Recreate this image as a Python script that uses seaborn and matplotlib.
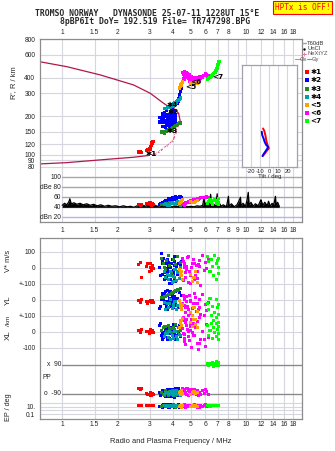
import numpy as np
import pandas as pd
import matplotlib
matplotlib.use("Agg")
import matplotlib.pyplot as plt
from matplotlib.ticker import NullLocator, FixedLocator, FixedFormatter
import seaborn as sns

sns.set_style("white")
plt.rcParams['font.family'] = ['Liberation Sans', 'DejaVu Sans']

# ---------------- data ----------------
freq_ticks = [1, 1.5, 2, 3, 4, 5, 6, 7, 8, 9, 10, 12, 14, 16, 18]
freq_labels_outer = ["1", "1.5", "2", "3", "4", "5", "6", "7", "8", "", "10", "12", "14", "16", "18"]
freq_labels_mid = ["1", "1.5", "2", "3", "4", "5", "6", "7", "8", "9", "10", "12", "14", "16", "18"]
height_ticks = [80, 90, 100, 120, 150, 200, 300, 400, 600, 800]

# model profile curve (virtual / real height)
prof_f = [0.753, 1.06, 1.61, 2.44, 3.01, 3.55, 3.78, 4.03, 4.29, 4.38, 4.20, 4.11, 4.03,
          3.78, 3.55, 3.27, 3.01, 2.44, 1.61, 1.06, 0.753]
prof_h = [532, 486, 419, 350, 301, 252, 237, 230, 210, 181, 160, 142, 130,
          119, 112, 102, 98.7, 95.2, 90.8, 86.4, 84.4]
nexyz_f = [4.20, 4.11, 4.03, 3.90, 3.78, 3.66, 3.55, 3.40, 3.27, 3.12, 3.01]
nexyz_h = [160, 142, 130, 124, 119, 115, 112, 106, 102, 100, 98.7]

# tilt inset
tiltx_deg = [-6.7, -5.3, -4.0, -3.1, -1.8, -0.3, -2.6, -4.8, -7.0]
tiltx_h = [160, 153, 140, 128, 119, 112, 107, 102, 97.5]
tilty_deg = [-8.1, -7.6, -6.2, -4.8, -3.3, -1.1, -3.1, -5.3, -7.3]
tilty_h = [151, 142, 134, 125, 119, 114.6, 108.6, 102.9, 97.5]

# noise spectrum (dBe)
noise_f = [1.00, 1.03, 1.06, 1.09, 1.10, 1.12, 1.16, 1.20, 1.25, 1.30, 1.36, 1.42, 1.48, 1.55,
           1.62, 1.70, 1.78, 1.86, 1.95, 2.05, 2.15, 2.25, 2.35, 2.45, 2.55, 2.65, 2.75, 2.85,
           2.95, 3.05, 3.15, 3.30, 3.45, 3.60, 3.80, 4.00, 4.20, 4.40, 4.60, 4.80, 5.00, 5.20,
           5.40, 5.60, 5.80, 5.90, 5.95, 6.10, 6.30, 6.40, 6.45, 6.60, 6.80, 6.95, 7.00, 7.10,
           7.30, 7.50, 7.80, 8.00, 8.05, 8.30, 8.60, 8.90, 9.10, 9.30, 9.35, 9.60, 9.90, 10.10,
           10.25, 10.35, 10.60, 10.90, 11.20, 11.60, 11.90, 12.00, 12.30, 12.60, 13.00, 13.20,
           13.50, 13.80, 14.10, 14.40, 14.50, 14.80, 15.10]
noise_db = [44, 48, 45, 52, 57, 47, 49, 46, 48, 45, 47, 44, 46, 43,
            45, 42, 44, 42, 43, 41, 43, 41, 42, 40, 43, 41, 44, 42,
            46, 43, 45, 42, 44, 42, 43, 41, 42, 41, 43, 41, 42, 41,
            43, 42, 44, 62, 45, 50, 43, 66, 44, 48, 42, 67, 45, 50,
            42, 45, 41, 62, 42, 47, 41, 45, 52, 60, 43, 48, 42, 55,
            70, 44, 50, 42, 47, 43, 52, 55, 44, 50, 43, 52,
            42, 48, 45, 62, 44, 50, 42]

trace_names = ["1", "2", "3", "4", "5", "6", "7"]
trace_labels = ["\u27311", "\u27312", "\u27313", "\u27314", "<5", "<6", "<7"]
trace_colors = ["#ff0000", "#0000ff", "#208a20", "#00a0a8", "#ffa000", "#ff00ff", "#00ff00"]

red_f = [2.60, 2.65, 2.70, 2.86, 2.92, 2.97, 3.00, 3.02, 3.05, 3.08, 3.12]
red_h = [105, 105, 104, 108, 110, 112, 110, 115, 119, 123, 127]
red_amp = [45, 44, 46, 47, 48, 50, 46, 49, 44, 47, 45]
red_v = [20, 35, -60, 10, 30, -20, 0, 25, -15, 15, -5]
red_yl = [-5, -15, 0, -10, -20, -8, -12, -3, -18, -6, -14]
red_xl = [10, -5, 15, 5, 0, -8, 12, 3, -3, 8, -6]
red_pp = [-58, -62, -60, -88, -95, -92, -100, -85, -98, -90, -94]
red_ep = [20, 18, 22, 19, 21, 20, 17, 23, 20, 19, 21]

blue_f = [4.45, 4.40, 4.35, 4.30, 4.25, 4.20,
          3.80, 3.95, 3.70, 3.88, 4.05,
          3.50, 3.65, 3.80, 3.98, 4.12,
          3.40, 3.55, 3.72, 3.88, 4.05,
          3.38, 3.52, 3.68, 3.85, 4.00,
          3.50, 3.65, 3.82, 4.00,
          3.45, 3.62, 3.78, 3.95, 4.12,
          3.58, 3.75, 3.92, 4.10,
          3.60, 3.92,
          3.72, 3.90, 4.08]
blue_h = [330, 310, 292, 275, 262, 250,
          232, 228, 220, 218, 215,
          208, 206, 204, 203, 200,
          194, 192, 190, 189, 188,
          180, 178, 176, 175, 174,
          166, 164, 163, 165,
          186, 184, 183, 182, 180,
          198, 197, 196, 193,
          214, 210,
          170, 168, 178]
blue_amp = [60, 61, 62, 60, 59, 58,
            55, 58, 52, 56, 60,
            50, 53, 57, 59, 61,
            47, 49, 54, 56, 58,
            45, 48, 51, 53, 55,
            46, 50, 52, 56,
            46, 50, 53, 55, 57,
            48, 52, 55, 58,
            51, 57,
            49, 54, 56]
blue_v = [40, 20, -10, 30, -40, 10,
          -20, 50, -60, 0, -80,
          30, -30, 10, -90, 20,
          -50, 60, -10, -70, 40,
          0, -40, 25, -100, -15,
          45, -65, 15, -35,
          90, -55, 35, -25, -85,
          5, 55, -45, 70, -75,
          25, -5,
          -95, 15]
blue_yl = [30, -20, 45, -50, 10, -35,
           -10, 25, -45, 55, -5,
           15, -60, 35, -25, 50,
           -40, 5, 60, -15, 20,
           -55, 40, -30, 10, -50,
           25, -10, 45, -35,
           0, 55, -45, 20, -25,
           35, -60, 10, 50,
           -20, -5,
           30, -40, 15]
blue_xl = [20, -30, 40, -10, -45, 5,
           30, -20, 10, -50, 45,
           -5, 35, -40, 15, -25,
           50, -35, 0, 25, -15,
           40, -45, 20, -10, 30,
           -30, 10, -40, 45,
           -20, 35, -5, 15, -50,
           25, -35, 5, 40,
           -25, 10,
           -45, 30, -15]
blue_pp = [-70, -85, -95, -60, -100, -80, -75, -90, -105, -65,
           -88, -95, -70, -110, -82, -60, -100, -78, -92, -68,
           -115, -85, -72, -98, -62, -90, -80, -105, -66, -94,
           -88, -74, -102, -64, -96, -83, -70, -108, -77, -90,
           -93, -61, -99, -86]
blue_ep = [10, 20, 8, 30, 15, 12, 25, 9, 18, 35,
           11, 14, 22, 7, 28, 16, 12, 40, 9, 19,
           24, 13, 8, 30, 17, 10, 21, 15, 6, 27,
           11, 33, 19, 9, 14, 26, 12, 18, 8, 23,
           16, 29, 10, 20]

green_f = [3.45, 3.55, 3.62, 3.70, 3.78, 3.85, 3.92, 4.00, 4.08, 4.15, 4.22, 4.30, 4.37, 3.60, 3.95]
green_h = [150, 150, 152, 153, 155, 157, 159, 162, 165, 168, 171, 174, 176, 147, 156]
green_amp = [45, 46, 47, 48, 47, 49, 50, 48, 46, 47, 49, 48, 46, 45, 47]
green_v = [60, 30, -10, 45, 80, 15, -30, 50, -60, 20, 70, -20, 35, 5, -45]
green_yl = [15, 18, 22, 28, 32, 36, 42, 48, 52, 58, 62, 68, 72, 20, 45]
green_xl = [10, 25, 35, 5, 40, 20, -5, 30, 15, 45, 0, 25, 10, 35, 20]
green_pp = [-80, -95, -70, -88, -100, -75, -92, -85, -68, -98, -78, -90, -82, -104, -72]
green_ep = [12, 18, 9, 25, 15, 10, 20, 30, 14, 8, 22, 16, 11, 19, 13]

cyan_f = [3.72, 3.80, 3.88, 3.95, 4.02, 4.10, 4.17, 4.25, 4.32, 4.38, 3.85, 4.00, 3.60, 3.66]
cyan_h = [232, 236, 240, 244, 248, 253, 258, 264, 270, 276, 232, 240, 230, 228]
cyan_amp = [44, 46, 48, 50, 47, 45, 49, 51, 46, 44, 43, 47, 45, 48]
cyan_v = [-40, -70, -20, -90, -55, -10, -80, -30, -65, 5, -50, -85, -25, -60]
cyan_yl = [-20, -45, 0, -55, -30, -10, -60, -35, -5, -50, -25, -40, -15, -58]
cyan_xl = [-10, -35, -45, -20, -40, 5, -30, -50, -15, -25, 0, -42, -28, -8]
cyan_pp = [-84, -96, -76, -90, -102, -86, -70, -94, -80, -98, -88, -74, -92, -82]
cyan_ep = [15, 10, 22, 12, 18, 9, 26, 14, 11, 20, 16, 13, 24, 17]

orange_f = [4.35, 4.38, 4.42, 4.46, 4.50, 5.00, 5.10, 5.20, 5.30, 5.40]
orange_h = [330, 340, 350, 360, 368, 362, 358, 356, 360, 362]
orange_amp = [48, 50, 52, 54, 55, 52, 50, 49, 51, 53]
orange_v = [-10, -30, -50, -20, -70, -40, -85, -60, -25, -90]
orange_yl = [-5, -20, -40, -60, -30, -80, -100, -50, -120, -70]
orange_xl = [30, 50, 70, 40, 85, 60, 35, 75, 45, 25]
orange_pp = [-85, -78, -92, -70, -88, -95, -80, -74, -90, -83]
orange_ep = [14, 10, 20, 8, 16, 12, 22, 9, 18, 11]

mag_f = [4.50, 4.60, 4.70, 4.55, 4.65, 4.75, 4.85, 4.60, 4.72, 4.85,
         4.95, 5.05, 5.15, 5.25, 5.35, 5.45, 5.55, 5.65, 5.10, 5.30,
         6.00, 6.10, 6.20, 4.58, 4.62, 4.80, 4.90, 5.00, 5.20, 5.40,
         5.60, 5.75, 5.90, 4.95, 5.50]
mag_h = [440, 445, 440, 425, 420, 415, 410, 405, 400, 395,
         390, 385, 380, 378, 380, 385, 390, 395, 395, 392,
         430, 420, 412, 395, 385, 430, 420, 405, 400, 398,
         405, 400, 415, 375, 375]
mag_amp = [46, 47, 48, 46, 49, 50, 51, 48, 50, 52,
           53, 52, 54, 55, 56, 57, 58, 59, 51, 55,
           60, 61, 60, 45, 44, 49, 52, 53, 55, 57,
           58, 59, 60, 50, 56]
mag_v = [60, 20, -30, 40, -60, 10, -90, 30, -10, 70,
         -40, 0, 50, -70, 15, -20, 45, -110, 25, -50,
         35, -5, 55, -80, 5, 65, -25, -45, 30, -65,
         10, 75, -15, -100, 20]
mag_yl = [-20, 10, -50, 30, -80, -10, -100, -35, 20, -60,
          -5, -120, -45, 40, -70, -25, 0, -90, -55, 15,
          -30, -65, -15, -110, 5, -40, 25, -85, -20, -75,
          -50, 35, -95, -10, -60]
mag_xl = [20, -40, 60, -10, -80, 40, 0, -60, 80, -30,
          10, -100, 50, -20, 30, -70, 90, -50, -5, 25,
          -90, 45, -35, 70, -15, 15, -55, 35, -25, 65,
          -75, 5, -45, 55, -110]
mag_pp = [-60, -75, -90, -65, -80, -95, -70, -85, -58, -100,
          -72, -88, -62, -78, -92, -68, -82, -97, -74, -86,
          -64, -79, -93, -69, -84, -57, -76, -89, -66, -81,
          -94, -71, -87, -63, -98]
mag_ep = [12, 20, 8, 15, 25, 10, 18, 30, 9, 14,
          22, 11, 16, 35, 13, 19, 7, 24, 17, 12,
          28, 10, 15, 21, 9, 13, 26, 11, 18, 8,
          20, 14, 23, 16, 10]

lime_f = [6.15, 6.25, 6.35, 6.45, 6.55, 6.65, 6.75, 6.85, 6.92, 6.98, 7.03, 7.08, 7.10]
lime_h = [385, 392, 400, 410, 418, 428, 440, 455, 470, 487, 505, 522, 535]
lime_amp = [48, 52, 55, 50, 46, 53, 56, 51, 47, 54, 57, 49, 45]
lime_v = [70, 40, -20, 55, 10, -50, 80, 25, -70, 45, 0, 60, -35]
lime_yl = [-20, -60, 10, -100, -40, -130, -80, 0, -110, -50, -140, -30, -90]
lime_xl = [40, -20, 10, 50, -40, 25, -5, 55, -30, 15, -50, 35, -10]
lime_pp = [95, 85, 100, 90, 105, 80, 98, 88, 110, 92, 84, 102, 96]
lime_ep = [18, 22, 15, 20, 25, 17, 19, 21, 16, 23, 18, 20, 24]

# trace label positions on the height panel
lab_f = [3.05, 4.03, 3.95, 3.95, 4.98, 5.35, 6.98]
lab_h = [101, 216, 154, 244, 338, 372, 402]

# ---------------- assemble ----------------
groups = [
    ("1", red_f, red_h, red_amp, red_v, red_yl, red_xl, red_pp, red_ep),
    ("2", blue_f, blue_h, blue_amp, blue_v, blue_yl, blue_xl, blue_pp, blue_ep),
    ("3", green_f, green_h, green_amp, green_v, green_yl, green_xl, green_pp, green_ep),
    ("4", cyan_f, cyan_h, cyan_amp, cyan_v, cyan_yl, cyan_xl, cyan_pp, cyan_ep),
    ("6", mag_f, mag_h, mag_amp, mag_v, mag_yl, mag_xl, mag_pp, mag_ep),
    ("5", orange_f, orange_h, orange_amp, orange_v, orange_yl, orange_xl, orange_pp, orange_ep),
    ("7", lime_f, lime_h, lime_amp, lime_v, lime_yl, lime_xl, lime_pp, lime_ep),
]
frames = []
for name, f, h, a, v, yl, xl, pp, ep in groups:
    frames.append(pd.DataFrame({"trace": name, "f": f, "h": h, "amp": a, "v": v,
                                "yl": yl, "xl": xl, "pp": pp, "ep": ep}))
echo = pd.concat(frames, ignore_index=True)
echo["order"] = echo["trace"].map({n: i for i, n in enumerate(["1", "2", "3", "4", "6", "5", "7"])})
palette = dict(zip(trace_names, trace_colors))

# offsets of the stacked lower panel (panel units)
V_OFF, YL_OFF, XL_OFF = 400, 200, 0
def pp_y(p):
    return -295.5 + np.asarray(p, float) * 1.006
def ep_y(e):
    return -467 + (np.log10(np.asarray(e, float)) - 1) * 23.5

lower = pd.concat([
    pd.DataFrame({"trace": echo.trace, "f": echo.f, "y": echo.v + V_OFF, "o": echo.order}),
    pd.DataFrame({"trace": echo.trace, "f": echo.f, "y": echo.yl + YL_OFF, "o": echo.order}),
    pd.DataFrame({"trace": echo.trace, "f": echo.f, "y": echo.xl + XL_OFF, "o": echo.order}),
    pd.DataFrame({"trace": echo.trace, "f": echo.f, "y": pp_y(echo.pp), "o": echo.order}),
    pd.DataFrame({"trace": echo.trace, "f": echo.f, "y": ep_y(echo.ep), "o": echo.order}),
], ignore_index=True).sort_values("o", kind="stable")
echo_sorted = echo.sort_values("order", kind="stable")

# ---------------- figure ----------------
W, H = 335, 451
fig = plt.figure(figsize=(W / 100, H / 100), dpi=100)
def box(l, t, r, b):
    return [l / W, 1 - b / H, (r - l) / W, (b - t) / H]

FRAME = "#8c8c8c"
GRID = "#d6d6de"
XMIN, XMAX = 0.753, 20.07
MS_TOP = 6.0
MS = 4.8

ax_h = fig.add_axes(box(39.5, 39, 302, 172))
ax_a = fig.add_axes(box(39.5, 172, 302, 222.3))
ax_l = fig.add_axes(box(39.5, 237.7, 302, 419.3))

for ax in (ax_h, ax_a, ax_l):
    ax.set_xscale("log")
    ax.set_xlim(XMIN, XMAX)
    ax.xaxis.set_major_locator(FixedLocator(freq_ticks))
    ax.xaxis.set_minor_locator(NullLocator())
    for xv in freq_ticks:
        ax.axvline(xv, color=GRID, lw=0.8, zorder=0)
    for s in ax.spines.values():
        s.set_color(FRAME)
        s.set_linewidth(0.9)
    ax.tick_params(length=0, labelsize=4.8, colors="#222222")

# --- height panel ---
ax_h.set_yscale("log")
ax_h.set_ylim(73, 800)
ax_h.yaxis.set_major_locator(FixedLocator(height_ticks))
ax_h.yaxis.set_minor_locator(NullLocator())
ax_h.yaxis.set_major_formatter(FixedFormatter([str(t) for t in height_ticks]))
ax_h.yaxis.set_minor_formatter(FixedFormatter([]))
for yv in height_ticks:
    ax_h.axhline(yv, color=GRID, lw=0.8, zorder=0)
ax_h.xaxis.tick_top()
ax_h.xaxis.set_major_formatter(FixedFormatter(freq_labels_outer))
ax_h.tick_params(axis="x", pad=2.5)
ax_h.tick_params(axis="y", pad=3)
ax_h.spines["bottom"].set_visible(False)

sns.lineplot(x=prof_f, y=prof_h, sort=False, estimator=None, color="#b01848", lw=0.9, ax=ax_h, zorder=2)
sns.lineplot(x=nexyz_f, y=nexyz_h, sort=False, estimator=None, color="#e87898", lw=0.9,
             marker="+", markersize=3, markeredgewidth=0.6, ax=ax_h, zorder=3)
sns.scatterplot(data=echo_sorted, x="f", y="h", hue="trace", palette=palette, marker="s",
                s=MS_TOP, linewidth=0, legend=False, ax=ax_h, zorder=4)
for t, fx, hy in zip(trace_labels, lab_f, lab_h):
    ax_h.text(fx, hy, t, fontsize=5.3, fontweight="bold", color="black",
              ha="center", va="center", family=["DejaVu Sans"], zorder=6)
ax_h.set_xlabel("")
ax_h.set_ylabel("")

# --- tilt inset ---
ax_t = fig.add_axes(box(241.7, 65, 297.3, 167.3))
ax_t.set_facecolor("white")
ax_t.set_yscale("log")
ax_t.set_ylim(79.6, 501)
ax_t.set_xlim(-30, 30.7)
ax_t.yaxis.set_major_locator(NullLocator())
ax_t.yaxis.set_minor_locator(NullLocator())
ax_t.set_xticks([-20, -10, 0, 10, 20])
ax_t.set_xticklabels(["-20", "-10", "0", "10", "20"])
ax_t.tick_params(length=0, labelsize=4.2, pad=1, colors="#222222")
for xv in [-20, -10, 0, 10, 20]:
    ax_t.axvline(xv, color=GRID, lw=0.8, zorder=0)
for s in ax_t.spines.values():
    s.set_color("#a0a0b0")
    s.set_linewidth(0.9)
sns.lineplot(x=tiltx_deg, y=tiltx_h, sort=False, estimator=None, color="#ff0000", lw=1.4, ax=ax_t)
sns.lineplot(x=tilty_deg, y=tilty_h, sort=False, estimator=None, color="#0000ff", lw=1.4, ax=ax_t)
ax_t.set_ylabel("")
ax_t.set_xlabel("Tilt / deg", fontsize=4.4, labelpad=0)

# --- amplitude panel ---
ax_a.set_ylim(10, 110.6)
ax_a.set_yticks([])
ax_a.spines["top"].set_visible(False)
ax_a.xaxis.set_major_formatter(FixedFormatter(freq_labels_mid))
ax_a.tick_params(axis="x", pad=3.2)
for yv, col in [(100, "#a8a8a8"), (80, "#a8a8a8"), (60, "#a8a8a8"), (40, "#a8a8a8"), (20, "#b4b4ee")]:
    ax_a.plot([1, XMAX], [yv, yv], color=col, lw=1.0, zorder=1)
for yv, txt in [(100, "100"), (80, "dBe 80"), (60, "60"), (40, "40"), (20, "dBn 20")]:
    ax_a.text(0.985, yv, txt, fontsize=4.8, ha="right", va="center", color="#222222")
ax_a.fill_between(noise_f, 40, noise_db, color="black", lw=0, zorder=2)
sns.lineplot(x=noise_f, y=noise_db, sort=False, estimator=None, color="black", lw=0.9, ax=ax_a, zorder=3)
sns.scatterplot(data=echo_sorted, x="f", y="amp", hue="trace", palette=palette, marker="s",
                s=MS, linewidth=0, legend=False, ax=ax_a, zorder=4)
ax_a.set_xlabel("")
ax_a.set_ylabel("")

# --- lower panel ---
ax_l.set_ylim(-546, 589)
ytick_pos = [500, 400, 300, 200, 100, 0, -100, -467, -514]
ytick_lab = ["100", "0", "+-100", "0", "+-100", "0", "-100", "10.", "0.1"]
ax_l.yaxis.set_major_locator(FixedLocator(ytick_pos))
ax_l.yaxis.set_major_formatter(FixedFormatter(ytick_lab))
ax_l.tick_params(axis="y", pad=3)
ax_l.tick_params(axis="x", pad=1.2)
ax_l.xaxis.set_major_formatter(FixedFormatter(freq_labels_outer))
for yv in [500, 400, 300, 200, 100, 0, -100, -443.5, -467, -490.5, -514]:
    ax_l.axhline(yv, color=GRID, lw=0.8, zorder=0)
for yv in [pp_y(90), pp_y(-90)]:
    ax_l.plot([1, XMAX], [yv, yv], color="#8a8a8a", lw=1.0, zorder=1)
ax_l.text(0.985, pp_y(90), "x  90", fontsize=4.8, ha="right", va="center", color="#222222")
ax_l.text(0.985, pp_y(-90), "o  -90", fontsize=4.8, ha="right", va="center", color="#222222")
ax_l.text(0.78, -286, "PP", fontsize=4.8, ha="left", va="center", color="#222222")
sns.scatterplot(data=lower, x="f", y="y", hue="trace", palette=palette, marker="s",
                s=MS, linewidth=0, legend=False, ax=ax_l, zorder=4)
ax_l.set_xlabel("Radio and Plasma Frequency / MHz", fontsize=5.4, labelpad=7)
ax_l.set_ylabel("")

# --- left rotated labels ---
def ftext(x, y, s, **kw):
    fig.text(x / W, 1 - y / H, s, **kw)
ftext(13.3, 83, "R', R / km", rotation=90, fontsize=5.4, ha="center", va="center")
ftext(8.5, 261, "V* m/s", rotation=90, fontsize=5.4, ha="center", va="center")
ftext(8.5, 300, "YL", rotation=90, fontsize=5.8, ha="center", va="center")
ftext(8.5, 321, "/km", rotation=90, fontsize=4.6, ha="center", va="center")
ftext(8.5, 335, "XL", rotation=90, fontsize=5.8, ha="center", va="center")
ftext(8.5, 407, "EP / deg", rotation=90, fontsize=5.2, ha="center", va="center")

# --- header ---
ftext(35, 13, "TROMSO NORWAY   DYNASONDE 25-07-11 1228UT 15\u00b0E", fontsize=5.9,
      family=["DejaVu Sans Mono"], ha="left", va="center", fontweight="bold")
ftext(60, 21, "8pBP6It DoY= 192.519 File= TR747298.BPG", fontsize=5.9,
      family=["DejaVu Sans Mono"], ha="left", va="center", fontweight="bold")
ftext(302.5, 7.3, "HPTx is OFF!", fontsize=5.6, family=["DejaVu Sans Mono"], ha="center",
      va="center", color="#ff0000",
      bbox=dict(boxstyle="square,pad=0.25", facecolor="#ffff00", edgecolor="#ff0000", lw=0.8))

# --- legend (right side) ---
ax_g = fig.add_axes(box(294, 36, 335, 126))
ax_g.set_xlim(294, 335)
ax_g.set_ylim(126, 36)
ax_g.axis("off")
LF = 4.2
ax_g.plot([302, 306], [43.3, 43.3], color="#a0a0a0", lw=1)
ax_g.text(307, 43.3, "T60dB", fontsize=LF, va="center", color="#333333")
ax_g.plot([304], [48.6], marker="s", color="black", ms=0.7)
ax_g.text(307, 48.6, "UnCl", fontsize=LF, va="center", color="#333333")
ax_g.plot([302, 306], [54, 54], color="#e87898", lw=0.7)
ax_g.plot([304], [54], marker="+", color="#e87898", ms=3, mew=0.6)
ax_g.text(307, 54, "NeXtYZ", fontsize=LF, va="center", color="#555555")
ax_g.plot([295, 299.5], [59.5, 59.5], color="#e87898", lw=0.8)
ax_g.text(300, 59.5, "\u0398x", fontsize=LF, va="center", color="#555555")
ax_g.plot([306.5, 311], [59.5, 59.5], color="#8080e0", lw=0.8)
ax_g.text(311.5, 59.5, "\u0398y", fontsize=LF, va="center", color="#555555")
leg_y = [72.3, 80, 89, 96.7, 105, 112.7, 120.7]
for yv, col, lab in zip(leg_y, trace_colors, trace_labels):
    ax_g.plot([307.3], [yv], marker="s", color=col, ms=2.2, mew=0)
    ax_g.text(310.5, yv, lab, fontsize=5.2, va="center", color="black",
              family=["DejaVu Sans"], fontweight="bold")

fig.savefig("out.png", dpi=100)
